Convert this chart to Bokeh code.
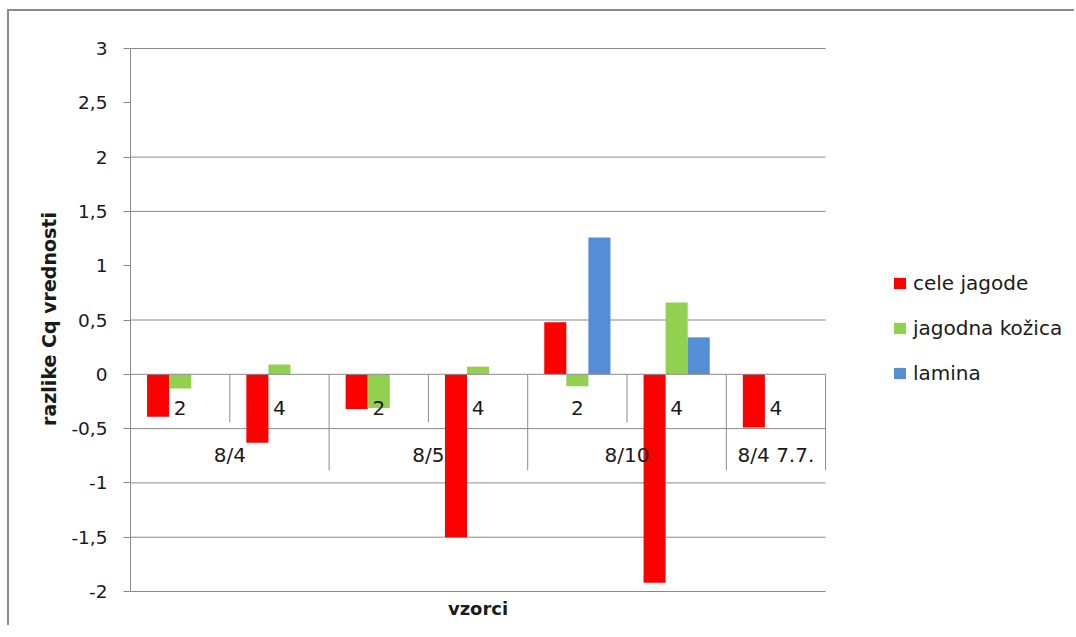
import numpy as np
from bokeh.plotting import figure
from bokeh.models import (LinearAxis, FixedTicker, CustomJSTickFormatter, Range1d,
                          Legend, LegendItem, ColumnDataSource, Grid)
from bokeh.core.properties import value
from bokeh.embed import file_html
from bokeh.resources import INLINE

# --- data -------------------------------------------------------------------
groups = ["8/4", "8/4", "8/5", "8/5", "8/10", "8/10", "8/4 7.7."]
samples = ["2", "4", "2", "4", "2", "4", "4"]
cele_jagode = [-0.39, -0.63, -0.32, -1.50, 0.48, -1.92, -0.49]
jagodna_kozica = [-0.13, 0.09, -0.31, 0.07, -0.11, 0.66, None]
lamina = [None, None, None, None, 1.26, 0.34, None]
series_names = ["cele jagode", "jagodna kožica", "lamina"]
series_values = [cele_jagode, jagodna_kozica, lamina]
series_colors = ["#FF0000", "#92D050", "#558ED5"]
y_ticks = [-2, -1.5, -1, -0.5, 0, 0.5, 1, 1.5, 2, 2.5, 3]
grid_values = [-2, -1.5, -1, -0.5, 0.5, 1.5, 2, 3]

# --- geometry (page pixels) -------------------------------------------------
PAGE_W, PAGE_H = 1076, 637
BORDER = 2                 # chart-area border: a CSS shadow to the top-left of the plot
OX, OY = 9, 11             # the plot is shifted to here on the page
W, H = PAGE_W - OX, PAGE_H - OY - 10
BOTTOM_PAD = 1             # keeps the value-axis title centred on the chart
FRAME_H = H - BOTTOM_PAD
LEFT = 130 - OX            # canvas x of the value axis
CAT_PX = 99.3              # pixel width of one category slot
Y_TOP_PX, Y_BOT_PX = 48 - OY, 591 - OY
Y_MAX, Y_MIN = 3, -2
UNIT_PX = (Y_BOT_PX - Y_TOP_PX) / (Y_MAX - Y_MIN)


def dy(px):
    """Convert a vertical pixel distance to data units."""
    return px / UNIT_PX


n = len(groups)
x_end = (W - LEFT) / CAT_PX
y_end = Y_MAX + dy(Y_TOP_PX)
y_start = Y_MIN - dy(FRAME_H - Y_BOT_PX)

TEXT = "#1a1a1a"
LINE = "#8a8a8a"
FONT = "DejaVu Sans"

p = figure(width=W, height=H, output_backend="svg", toolbar_location=None,
           x_range=Range1d(0, x_end), y_range=Range1d(y_start, y_end),
           x_axis_location=None, y_axis_location=None,
           min_border_left=LEFT, min_border_right=0,
           min_border_top=0, min_border_bottom=BOTTOM_PAD,
           styles={"transform": f"translate({OX}px, {OY}px)",
                   "box-shadow": f"-{BORDER}px -{BORDER}px 0 0 #8a8a8a"})
p.outline_line_color = None
p.background_fill_color = "white"
p.border_fill_color = "white"
for g in p.select(type=Grid):
    g.visible = False

# value axis
yaxis = LinearAxis(bounds=(Y_MIN, Y_MAX),
                   ticker=FixedTicker(ticks=y_ticks, minor_ticks=[]),
                   formatter=CustomJSTickFormatter(code="return tick.toString().replace('.', ',');"),
                   axis_label="razlike Cq vrednosti")
yaxis.axis_line_color = LINE
yaxis.major_tick_line_color = LINE
yaxis.major_tick_out = 7
yaxis.major_tick_in = 0
yaxis.minor_tick_line_color = None
yaxis.major_label_standoff = 16
yaxis.major_label_text_font = FONT
yaxis.major_label_text_font_size = "18.5px"
yaxis.major_label_text_color = TEXT
yaxis.axis_label_text_font = FONT
yaxis.axis_label_text_font_size = "19px"
yaxis.axis_label_text_font_style = "bold"
yaxis.axis_label_text_color = TEXT
yaxis.axis_label_standoff = 8
p.add_layout(yaxis, "left")

# horizontal gridlines across the category slots
p.segment(x0=[0] * len(grid_values), x1=[n] * len(grid_values),
          y0=grid_values, y1=grid_values, line_color=LINE, line_width=1)

# bars (gap width 150 %)
bar_w = 1 / 4.5
renderers = []
for s, (vals, color) in enumerate(zip(series_values, series_colors)):
    idx = [i for i, v in enumerate(vals) if v is not None]
    src = ColumnDataSource(dict(
        x=[i + 0.5 + (s - 1) * bar_w for i in idx],
        top=[vals[i] for i in idx],
    ))
    r = p.vbar(x="x", top="top", bottom=0, width=bar_w, source=src,
               fill_color=color, line_color=None)
    renderers.append(r)

# category axis drawn along zero
p.segment(x0=[0], x1=[n], y0=[0], y1=[0], line_color=LINE, line_width=1)

inner_x = [i for i in range(1, n) if groups[i] == groups[i - 1]]
outer_x = [i for i in range(1, n) if groups[i] != groups[i - 1]] + [n]
p.segment(x0=inner_x, x1=inner_x, y0=[0] * len(inner_x), y1=[-dy(48)] * len(inner_x),
          line_color=LINE, line_width=1)
p.segment(x0=outer_x, x1=outer_x, y0=[0] * len(outer_x), y1=[-dy(96)] * len(outer_x),
          line_color=LINE, line_width=1)

p.text(x=[i + 0.5 for i in range(n)], y=[-dy(33.5)] * n, text=samples,
       text_align="center", text_baseline="middle",
       text_font=value(FONT), text_font_size="20px", text_color=TEXT)

# one label per run of equal group names
starts = [0] + [i for i in range(1, n) if groups[i] != groups[i - 1]]
ends = starts[1:] + [n]
p.text(x=[(a + b) / 2 for a, b in zip(starts, ends)], y=[-dy(81)] * len(starts),
       text=[groups[a] for a in starts],
       text_align="center", text_baseline="middle",
       text_font=value(FONT), text_font_size="20px", text_color=TEXT)

# axis title for the categories
p.text(x=[n / 2], y=[Y_MIN - dy(17)], text=["vzorci"],
       text_align="center", text_baseline="middle",
       text_font=value(FONT), text_font_size="18px", text_font_style="bold",
       text_color=TEXT)

# legend
legend = Legend(items=[LegendItem(label=nm, renderers=[r]) for nm, r in zip(series_names, renderers)],
                location=(892 - 130, FRAME_H - (385 - OY)), orientation="vertical",
                border_line_color=None, background_fill_alpha=0,
                padding=0, margin=0, spacing=21, glyph_width=15, glyph_height=14,
                label_standoff=6, label_height=21,
                label_text_font=FONT, label_text_font_size="20px", label_text_color=TEXT)
p.add_layout(legend)

open("out.html", "w").write(file_html(p, INLINE))
